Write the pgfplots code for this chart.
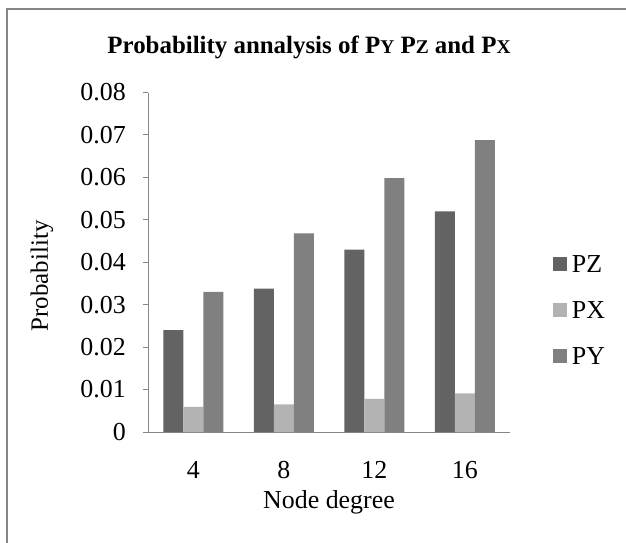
\documentclass[border=0pt]{standalone}
\usepackage{pgfplots}
\pgfplotsset{compat=1.18}
\usepackage{fontspec}
\setmainfont{Liberation Serif}
\definecolor{cPZ}{RGB}{99,99,99}
\definecolor{cPX}{RGB}{179,179,179}
\definecolor{cPY}{RGB}{128,128,128}
\definecolor{axgray}{RGB}{134,134,134}
\begin{document}
\begin{tikzpicture}
\path[use as bounding box] (0,0) rectangle (626bp,-543bp);
\draw[axgray, line width=1.2bp] (7bp,-543bp) -- (7bp,-9bp) -- (626bp,-9bp);
\node[anchor=base, font={\fontsize{25}{29}\selectfont\bfseries}] at (309bp,-53bp)
  {Probability annalysis of P{\fontsize{19.5}{22}\selectfont Y} P{\fontsize{19.5}{22}\selectfont Z} and P{\fontsize{19.5}{22}\selectfont X}};
\begin{axis}[
  at={(148bp,-432bp)}, anchor=south west,
  scale only axis, width=362bp, height=339.5bp,
  xmin=-0.5, xmax=3.5, ymin=0, ymax=0.08,
  ybar=0pt, bar width=20bp,
  axis x line*=bottom, axis y line*=left,
  axis line style={axgray, line width=1bp, -},
  xtick={0,1,2,3}, xticklabels={4,8,12,16},
  xtick style={draw=none},
  scaled y ticks=false,
  ytick={0,0.01,0.02,0.03,0.04,0.05,0.06,0.07,0.08},
  yticklabels={0,0.01,0.02,0.03,0.04,0.05,0.06,0.07,0.08},
  ytick style={axgray, line width=1bp},
  tick align=outside, major tick length=5bp,
  /pgf/number format/assume math mode=true,
  tick label style={font=\fontsize{26}{30}\selectfont},
  xticklabel style={anchor=base, inner sep=0pt, yshift=-41bp},
  yticklabel style={anchor=east, inner sep=0pt, xshift=-17bp},
  xlabel={Node degree},
  ylabel={Probability},
  label style={font=\fontsize{26}{30}\selectfont},
  xlabel style={at={(axis description cs:0.5,-0.224)}, anchor=base},
  ylabel style={at={(axis description cs:-0.293,0.46)}, anchor=center, font=\fontsize{25}{30}\selectfont},
  legend style={at={(1.118,0.359)}, anchor=west, draw=none, fill=none,
    inner sep=0pt, row sep=29bp, font=\fontsize{26}{30}\selectfont,
    nodes={inner sep=0pt, text height=17bp, text depth=0pt},
    /tikz/every odd column/.append style={column sep=5bp}},
  legend cell align=left,
  legend image code/.code={\fill[#1,draw=none] (0bp,-7bp) rectangle (14bp,7bp);},
]
\addplot[fill=cPZ, draw=none] coordinates {(0,0.024) (1,0.0338) (2,0.043) (3,0.052)};
\addplot[fill=cPX, draw=none] coordinates {(0,0.0059) (1,0.0065) (2,0.0078) (3,0.0091)};
\addplot[fill=cPY, draw=none] coordinates {(0,0.033) (1,0.0468) (2,0.0598) (3,0.0688)};
\legend{PZ,PX,PY}
\end{axis}
\end{tikzpicture}
\end{document}
